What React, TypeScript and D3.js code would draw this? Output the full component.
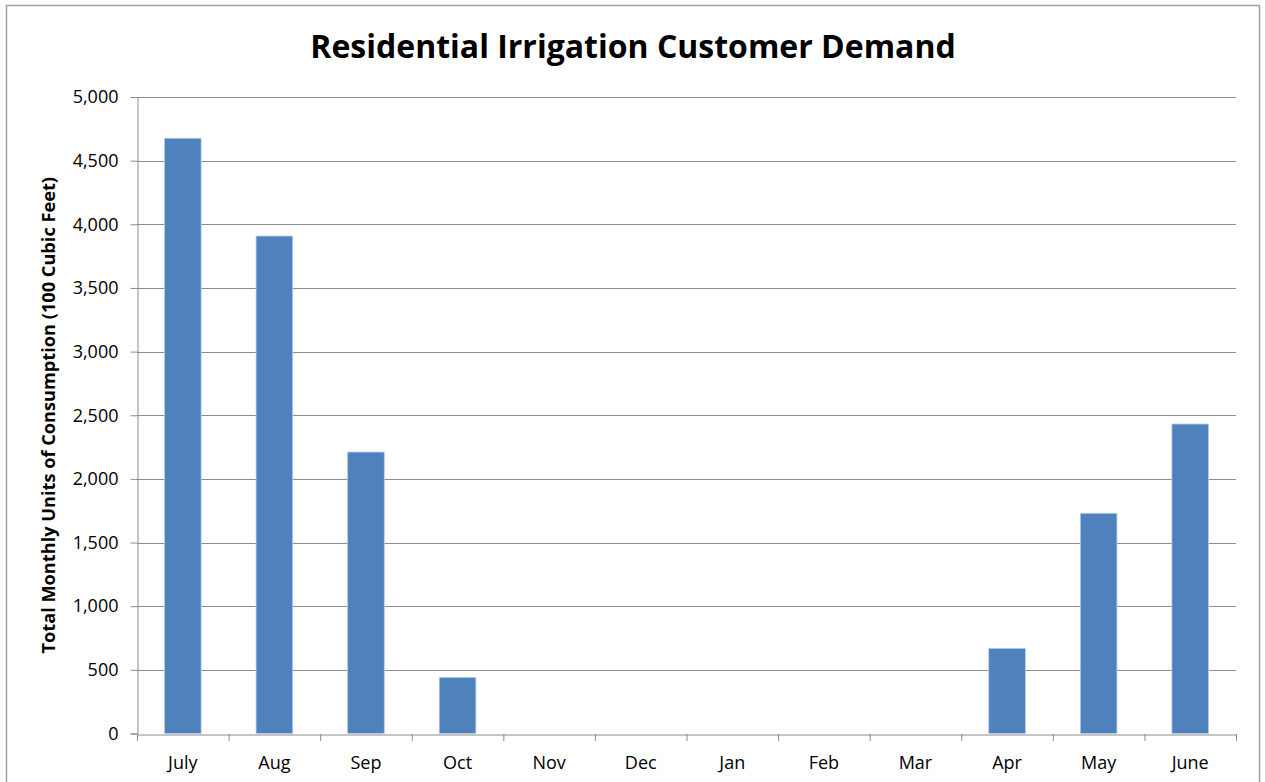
import React, { useEffect, useRef } from "react";
import * as d3 from "d3";

const categories = ["July", "Aug", "Sep", "Oct", "Nov", "Dec", "Jan", "Feb", "Mar", "Apr", "May", "June"];
const values = [4676, 3908, 2211, 441, 0, 0, 0, 0, 0, 669, 1730, 2431];
const yTicks = [0, 500, 1000, 1500, 2000, 2500, 3000, 3500, 4000, 4500, 5000];
const title = "Residential Irrigation Customer Demand";
const yLabel = "Total Monthly Units of Consumption (100 Cubic Feet)";

const W = 1265;
const H = 782;
const FONT = "'Open Sans', 'Liberation Sans', sans-serif";

export default function App() {
  const ref = useRef<SVGSVGElement>(null);
  useEffect(() => {
    const svg = d3.select(ref.current);
    svg.selectAll("*").remove();
    const left = 137, right = 1236, top = 97, bottom = 733.5;

    svg.append("rect").attr("x", 6.5).attr("y", 5.5).attr("width", 1253).attr("height", 790)
      .attr("fill", "#fff").attr("stroke", "#a0a0a0").attr("stroke-width", 1.5);

    const x = d3.scaleBand<string>().domain(categories).range([left, right]).paddingInner(0.6).paddingOuter(0.3);
    const xb = d3.scaleBand<string>().domain(categories).range([left, right]);
    const y = d3.scaleLinear().domain([0, 5000]).range([bottom, top]);

    // gridlines
    svg.append("g").selectAll("line").data(yTicks.filter(t => t > 0)).join("line")
      .attr("x1", left).attr("x2", right)
      .attr("y1", d => Math.round(y(d)) + 0.5).attr("y2", d => Math.round(y(d)) + 0.5)
      .attr("stroke", "#8c8c8c").attr("stroke-width", 1);

    // bars
    svg.append("g").selectAll("rect").data(values.map((v, i) => ({ v, c: categories[i] })).filter(d => d.v > 0)).join("rect")
      .attr("x", d => x(d.c)!)
      .attr("width", x.bandwidth())
      .attr("y", d => y(d.v))
      .attr("height", d => y(0) - y(d.v))
      .attr("fill", "#4F81BD")
      .attr("stroke", "#b9cde5").attr("stroke-width", 0.8);

    // y axis
    const yAxis = svg.append("g").attr("transform", `translate(${left + 0.5},0)`)
      .call(d3.axisLeft(y).tickValues(yTicks).tickSize(7).tickPadding(12).tickFormat(d3.format(",")));
    yAxis.select(".domain").attr("stroke", "#8c8c8c");
    yAxis.selectAll(".tick line").attr("stroke", "#8c8c8c");
    yAxis.selectAll(".tick text").attr("font-family", FONT).attr("font-size", 18).attr("fill", "#000");

    // x axis
    const xAxis = svg.append("g").attr("transform", `translate(0,${Math.round(bottom) + 0.5})`)
      .call(d3.axisBottom(xb).tickSize(0).tickPadding(22));
    xAxis.select(".domain").attr("stroke", "#8c8c8c");
    xAxis.selectAll(".tick text").attr("font-family", FONT).attr("font-size", 18).attr("fill", "#000");
    svg.append("g").selectAll("line").data(d3.range(categories.length + 1)).join("line")
      .attr("x1", i => left + 0.5 + i * xb.step()).attr("x2", i => left + 0.5 + i * xb.step())
      .attr("y1", Math.round(bottom)).attr("y2", Math.round(bottom) + 7)
      .attr("stroke", "#8c8c8c");

    svg.append("text").attr("x", 633).attr("y", 58).attr("text-anchor", "middle")
      .attr("font-family", FONT).attr("font-weight", "bold").attr("font-size", 32).text(title);

    svg.append("text").attr("transform", `translate(55,${(top + bottom) / 2}) rotate(-90)`)
      .attr("text-anchor", "middle").attr("font-family", FONT).attr("font-weight", "bold")
      .attr("font-size", 18.2).text(yLabel);
  }, []);
  return <svg ref={ref} width={W} height={H} style={{ display: "block", position: "absolute", left: 0, top: 0 }} />;
}
